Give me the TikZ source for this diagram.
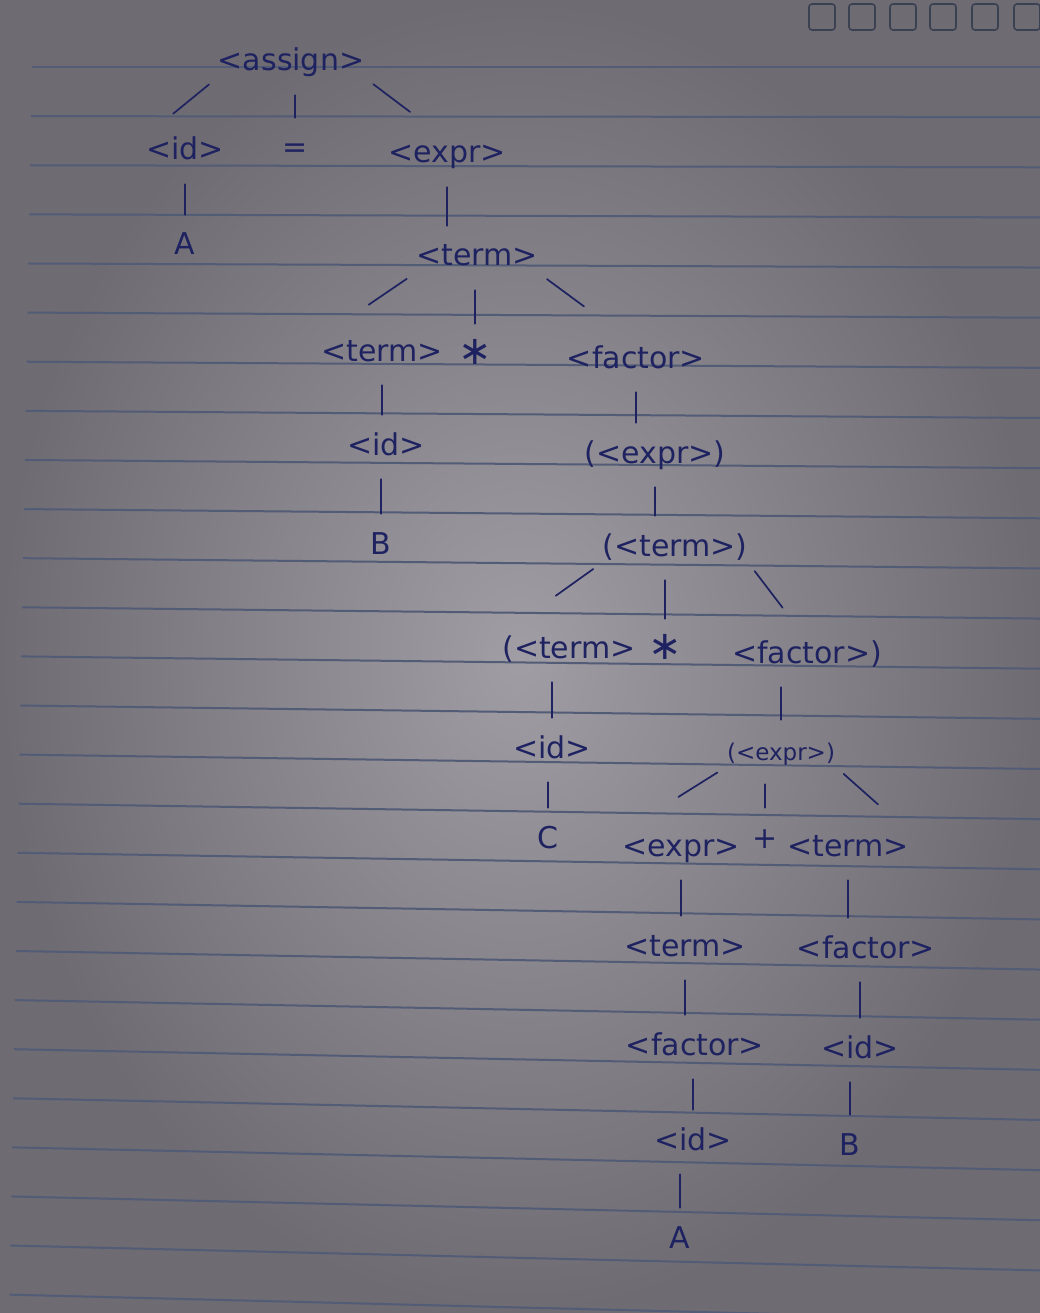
\documentclass[tikz,border=0pt]{standalone}
\usepackage{fontspec}
\setmainfont{DejaVu Sans}
\usetikzlibrary{calc}

\begin{document}
\begin{tikzpicture}[x=1pt, y=-1pt]
%====Colours===============================================================
	\definecolor{paper}{RGB}{160,157,164}
	\definecolor{paperdark}{RGB}{110,107,115}
	\definecolor{rule}{RGB}{82,92,118}
	\definecolor{ink}{RGB}{30,34,96}
%====Styles===============================================================
	\tikzstyle{sym}=[text=ink, font=\fontsize{30}{34}\selectfont, inner sep=1pt, text height=22pt, text depth=6pt]
	\tikzstyle{tight}=[font=\fontsize{23}{26}\selectfont]
	\tikzstyle{op}=[font=\fontsize{40}{40}\selectfont]
	\tikzstyle{branch}=[draw=ink, line width=1.7pt, line cap=round, shorten <=17pt, shorten >=17pt]
	\tikzstyle{slant}=[draw=ink, line width=1.7pt, line cap=round]
	\tikzstyle{ruled}=[draw=rule, line width=2pt]
%====Sheet===============================================================
	\useasboundingbox (0,0) rectangle (1040,1313);
	\shade[inner color=paper, outer color=paperdark] (0,0) rectangle (1040,1313);
	\foreach \i in {0,...,25}{
		\pgfmathsetmacro{\yb}{67+49.8*\i}
		\pgfmathsetmacro{\sl}{0.001*\i}
		\pgfmathsetmacro{\xl}{32-0.9*\i}
		\draw[ruled] (\xl, {\yb+(\xl-700)*\sl}) -- (1040, {\yb+340*\sl});
	}
	\foreach \x in {822,862,903,943,985,1027}
		\draw[rule!70!black, line width=1.6pt, rounded corners=3pt] (\x-13,4) rectangle (\x+13,30);
%====Tree nodes===============================================================
	\node[sym] 	(assign) 	at (291,63) 	{<assign>};
	\node[sym] 	(idA) 		at (185,152) 	{<id>};
	\node[sym] 	(eq) 		at (295,150) 	{=};
	\node[sym] 	(exprA) 	at (447,155) 	{<expr>};
	\node[sym] 	(litA) 		at (185,247) 	{A};
	\node[sym] 	(termA) 	at (477,258) 	{<term>};
	\node[sym] 	(termB) 	at (382,353) 	{<term>};
	\node[sym,op] 	(starA) 	at (475,356) 	{∗};
	\node[sym] 	(factorA) 	at (636,360) 	{<factor>};
	\node[sym] 	(idB) 		at (386,447) 	{<id>};
	\node[sym] 	(pexprA) 	at (655,455) 	{(<expr>)};
	\node[sym] 	(litB) 		at (381,546) 	{B};
	\node[sym] 	(ptermA) 	at (675,548) 	{(<term>)};
	\node[sym] 	(ptermB) 	at (569,650) 	{(<term>};
	\node[sym,op] 	(starB) 	at (665,651) 	{∗};
	\node[sym] 	(pfactor) 	at (807,655) 	{<factor>)};
	\node[sym] 	(idC) 		at (552,750) 	{<id>};
	\node[sym,tight] (pexprB) 	at (781,752) 	{(<expr>)};
	\node[sym] 	(litC) 		at (548,840) 	{C};
	\node[sym] 	(exprB) 	at (681,848) 	{<expr>};
	\node[sym] 	(plus) 		at (765,840) 	{+};
	\node[sym] 	(termC) 	at (848,848) 	{<term>};
	\node[sym] 	(termD) 	at (685,948) 	{<term>};
	\node[sym] 	(factorB) 	at (866,950) 	{<factor>};
	\node[sym] 	(factorC) 	at (695,1047) 	{<factor>};
	\node[sym] 	(idD) 		at (860,1050) 	{<id>};
	\node[sym] 	(idE) 		at (693,1142) 	{<id>};
	\node[sym] 	(litB2) 	at (850,1147) 	{B};
	\node[sym] 	(litA2) 	at (680,1240) 	{A};
%====Vertical branches (parent/child/which x)===============================================================
	\foreach \p/\c/\k in {assign/eq/eq,idA/litA/idA,exprA/termA/exprA,termA/starA/starA,termB/idB/termB,idB/litB/litB,factorA/pexprA/factorA,pexprA/ptermA/pexprA,ptermA/starB/starB,ptermB/idC/idC,idC/litC/litC,pfactor/pexprB/pexprB,pexprB/plus/plus,exprB/termD/exprB,termD/factorC/termD,factorC/idE/idE,idE/litA2/litA2,termC/factorB/termC,factorB/idD/idD,idD/litB2/litB2}
		\draw[branch] (\p.south -| \k) -- (\c.north -| \k);
%====Oblique branches===============================================================
	\foreach \p/\c in {assign.south west/idA.north west,assign.south east/exprA.north,termA.south west/termB.north west,termA.south east/factorA.north,ptermA.south west/ptermB.north west,ptermA.south east/pfactor.north,pexprB.south west/exprB.north west,pexprB.south east/termC.north east}
		\draw[slant] ($(\p)!10pt!(\c)$) -- ($(\p)!56pt!(\c)$);
\end{tikzpicture}
\end{document}
